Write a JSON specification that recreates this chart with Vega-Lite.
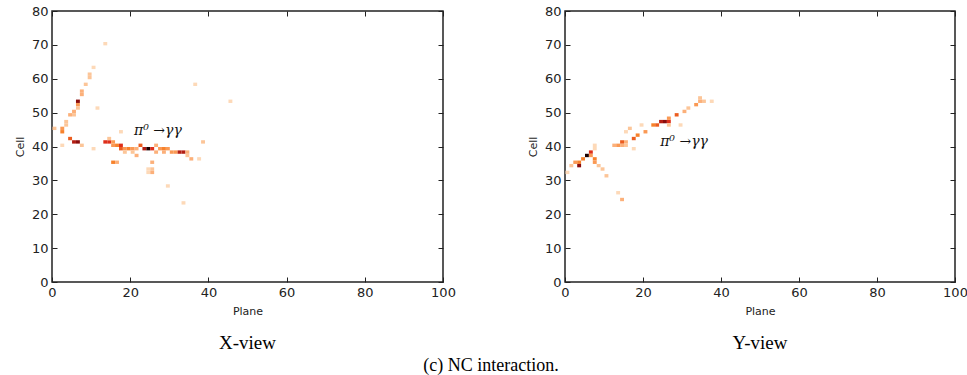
{
  "$schema": "https://vega.github.io/schema/vega-lite/v6.json",
  "padding": {"left": 13, "top": 4, "right": 0, "bottom": 0},
  "background": "white",
  "datasets": {
    "xview": [
      {"plane": 13, "cell": 70, "v": 1},
      {"plane": 10, "cell": 63, "v": 1},
      {"plane": 9, "cell": 61, "v": 2},
      {"plane": 9, "cell": 60, "v": 2},
      {"plane": 8, "cell": 58, "v": 2},
      {"plane": 7, "cell": 56, "v": 3},
      {"plane": 7, "cell": 55, "v": 3},
      {"plane": 6, "cell": 53, "v": 9},
      {"plane": 6, "cell": 52, "v": 4},
      {"plane": 6, "cell": 51, "v": 2},
      {"plane": 5, "cell": 50, "v": 3},
      {"plane": 5, "cell": 49, "v": 2},
      {"plane": 4, "cell": 49, "v": 3},
      {"plane": 3, "cell": 47, "v": 2},
      {"plane": 3, "cell": 46, "v": 2},
      {"plane": 2, "cell": 45, "v": 4},
      {"plane": 2, "cell": 44, "v": 5},
      {"plane": 0, "cell": 45, "v": 2},
      {"plane": 11, "cell": 51, "v": 1},
      {"plane": 2, "cell": 40, "v": 1},
      {"plane": 4, "cell": 42, "v": 6},
      {"plane": 5, "cell": 41, "v": 8},
      {"plane": 6, "cell": 41, "v": 9},
      {"plane": 7, "cell": 40, "v": 2},
      {"plane": 10, "cell": 39, "v": 1},
      {"plane": 13, "cell": 41, "v": 7},
      {"plane": 14, "cell": 41, "v": 7},
      {"plane": 15, "cell": 41, "v": 4},
      {"plane": 14, "cell": 42, "v": 2},
      {"plane": 15, "cell": 40, "v": 4},
      {"plane": 16, "cell": 40, "v": 5},
      {"plane": 17, "cell": 44, "v": 1},
      {"plane": 17, "cell": 40, "v": 7},
      {"plane": 17, "cell": 39, "v": 6},
      {"plane": 18, "cell": 39, "v": 4},
      {"plane": 19, "cell": 39, "v": 5},
      {"plane": 20, "cell": 39, "v": 4},
      {"plane": 18, "cell": 38, "v": 2},
      {"plane": 20, "cell": 38, "v": 2},
      {"plane": 21, "cell": 39, "v": 3},
      {"plane": 21, "cell": 37, "v": 3},
      {"plane": 22, "cell": 40, "v": 6},
      {"plane": 23, "cell": 39, "v": 8},
      {"plane": 24, "cell": 39, "v": 10},
      {"plane": 25, "cell": 39, "v": 7},
      {"plane": 26, "cell": 40, "v": 3},
      {"plane": 26, "cell": 38, "v": 3},
      {"plane": 27, "cell": 39, "v": 4},
      {"plane": 28, "cell": 39, "v": 5},
      {"plane": 28, "cell": 38, "v": 3},
      {"plane": 29, "cell": 39, "v": 4},
      {"plane": 30, "cell": 38, "v": 4},
      {"plane": 31, "cell": 38, "v": 4},
      {"plane": 32, "cell": 38, "v": 8},
      {"plane": 33, "cell": 38, "v": 8},
      {"plane": 34, "cell": 38, "v": 3},
      {"plane": 34, "cell": 37, "v": 2},
      {"plane": 35, "cell": 36, "v": 3},
      {"plane": 37, "cell": 36, "v": 1},
      {"plane": 38, "cell": 41, "v": 2},
      {"plane": 15, "cell": 35, "v": 5},
      {"plane": 16, "cell": 35, "v": 3},
      {"plane": 25, "cell": 35, "v": 3},
      {"plane": 24, "cell": 33, "v": 1},
      {"plane": 25, "cell": 33, "v": 2},
      {"plane": 24, "cell": 32, "v": 1},
      {"plane": 25, "cell": 32, "v": 3},
      {"plane": 29, "cell": 28, "v": 1},
      {"plane": 33, "cell": 23, "v": 1},
      {"plane": 36, "cell": 58, "v": 1},
      {"plane": 45, "cell": 53, "v": 1}
    ],
    "yview": [
      {"plane": 0, "cell": 32, "v": 1},
      {"plane": 1, "cell": 34, "v": 2},
      {"plane": 2, "cell": 35, "v": 4},
      {"plane": 3, "cell": 35, "v": 5},
      {"plane": 3, "cell": 34, "v": 9},
      {"plane": 4, "cell": 36, "v": 5},
      {"plane": 5, "cell": 37, "v": 10},
      {"plane": 6, "cell": 38, "v": 7},
      {"plane": 6, "cell": 37, "v": 4},
      {"plane": 7, "cell": 40, "v": 1},
      {"plane": 7, "cell": 39, "v": 1},
      {"plane": 7, "cell": 36, "v": 5},
      {"plane": 7, "cell": 35, "v": 4},
      {"plane": 8, "cell": 34, "v": 2},
      {"plane": 9, "cell": 33, "v": 2},
      {"plane": 10, "cell": 31, "v": 2},
      {"plane": 12, "cell": 40, "v": 3},
      {"plane": 13, "cell": 40, "v": 4},
      {"plane": 14, "cell": 40, "v": 3},
      {"plane": 13, "cell": 26, "v": 1},
      {"plane": 14, "cell": 24, "v": 3},
      {"plane": 14, "cell": 41, "v": 6},
      {"plane": 15, "cell": 41, "v": 3},
      {"plane": 15, "cell": 44, "v": 1},
      {"plane": 16, "cell": 45, "v": 2},
      {"plane": 15, "cell": 40, "v": 2},
      {"plane": 17, "cell": 42, "v": 6},
      {"plane": 17, "cell": 39, "v": 1},
      {"plane": 18, "cell": 43, "v": 5},
      {"plane": 19, "cell": 46, "v": 1},
      {"plane": 20, "cell": 44, "v": 4},
      {"plane": 22, "cell": 46, "v": 5},
      {"plane": 23, "cell": 46, "v": 6},
      {"plane": 24, "cell": 47, "v": 8},
      {"plane": 25, "cell": 47, "v": 9},
      {"plane": 26, "cell": 47, "v": 7},
      {"plane": 26, "cell": 48, "v": 4},
      {"plane": 26, "cell": 46, "v": 2},
      {"plane": 28, "cell": 49, "v": 6},
      {"plane": 29, "cell": 46, "v": 1},
      {"plane": 30, "cell": 50, "v": 3},
      {"plane": 31, "cell": 51, "v": 2},
      {"plane": 33, "cell": 52, "v": 4},
      {"plane": 34, "cell": 54, "v": 2},
      {"plane": 34, "cell": 53, "v": 3},
      {"plane": 35, "cell": 53, "v": 2},
      {"plane": 37, "cell": 53, "v": 1}
    ],
    "xlabel": [{"plane": 21, "cell": 44.5, "label": "π⁰ →γγ"}],
    "ylabel": [{"plane": 24.4, "cell": 41.3, "label": "π⁰ →γγ"}]
  },
  "title": {
    "text": "(c) NC interaction.",
    "orient": "bottom",
    "anchor": "middle",
    "font": "Liberation Serif",
    "fontSize": 18,
    "fontWeight": "normal",
    "color": "#000",
    "offset": 3
  },
  "spacing": 69,
  "hconcat": [
    {
      "width": 391,
      "height": 271,
      "title": {"text": "X-view", "orient": "bottom", "font": "Liberation Serif", "fontSize": 19, "fontWeight": "normal", "color": "#000", "offset": 18},
      "layer": [
        {
          "data": {"name": "xview"},
          "mark": {"type": "rect"},
          "encoding": {
            "x": {"field": "plane", "type": "quantitative", "bin": {"step": 1, "extent": [0, 100]}, "scale": {"domain": [0, 100], "nice": false}, "axis": {"title": "Plane", "values": [0, 20, 40, 60, 80, 100], "orient": "bottom"}},
            "y": {"field": "cell", "type": "quantitative", "bin": {"step": 1, "extent": [0, 80]}, "scale": {"domain": [0, 80], "nice": false}, "axis": {"title": "Cell", "values": [0, 10, 20, 30, 40, 50, 60, 70, 80], "orient": "left"}},
            "color": {"field": "v", "type": "quantitative", "legend": null, "scale": {"domain": [1, 3, 5, 7, 9, 10], "range": ["#fdd9b8", "#fcb07a", "#f7822c", "#de2e1a", "#8a0c0c", "#1a0000"]}}
          }
        },
        {
          "data": {"name": "xlabel"},
          "mark": {"type": "text", "align": "left", "baseline": "middle", "font": "DejaVu Serif", "fontStyle": "italic", "fontSize": 14, "color": "#111"},
          "encoding": {
            "x": {"field": "plane", "type": "quantitative", "axis": {"orient": "top", "labels": false, "title": null, "values": [0, 20, 40, 60, 80, 100]}},
            "y": {"field": "cell", "type": "quantitative", "axis": {"orient": "right", "labels": false, "title": null, "values": [0, 10, 20, 30, 40, 50, 60, 70, 80]}},
            "text": {"field": "label"}
          }
        }
      ],
      "resolve": {"axis": {"x": "independent", "y": "independent"}}
    },
    {
      "width": 390,
      "height": 271,
      "title": {"text": "Y-view", "orient": "bottom", "font": "Liberation Serif", "fontSize": 19, "fontWeight": "normal", "color": "#000", "offset": 18},
      "layer": [
        {
          "data": {"name": "yview"},
          "mark": {"type": "rect"},
          "encoding": {
            "x": {"field": "plane", "type": "quantitative", "bin": {"step": 1, "extent": [0, 100]}, "scale": {"domain": [0, 100], "nice": false}, "axis": {"title": "Plane", "values": [0, 20, 40, 60, 80, 100], "orient": "bottom"}},
            "y": {"field": "cell", "type": "quantitative", "bin": {"step": 1, "extent": [0, 80]}, "scale": {"domain": [0, 80], "nice": false}, "axis": {"title": "Cell", "values": [0, 10, 20, 30, 40, 50, 60, 70, 80], "orient": "left"}},
            "color": {"field": "v", "type": "quantitative", "legend": null, "scale": {"domain": [1, 3, 5, 7, 9, 10], "range": ["#fdd9b8", "#fcb07a", "#f7822c", "#de2e1a", "#8a0c0c", "#1a0000"]}}
          }
        },
        {
          "data": {"name": "ylabel"},
          "mark": {"type": "text", "align": "left", "baseline": "middle", "font": "DejaVu Serif", "fontStyle": "italic", "fontSize": 14, "color": "#111"},
          "encoding": {
            "x": {"field": "plane", "type": "quantitative", "axis": {"orient": "top", "labels": false, "title": null, "values": [0, 20, 40, 60, 80, 100]}},
            "y": {"field": "cell", "type": "quantitative", "axis": {"orient": "right", "labels": false, "title": null, "values": [0, 10, 20, 30, 40, 50, 60, 70, 80]}},
            "text": {"field": "label"}
          }
        }
      ],
      "resolve": {"axis": {"x": "independent", "y": "independent"}}
    }
  ],
  "config": {
    "view": {"stroke": "#222", "strokeWidth": 1.5},
    "axis": {
      "grid": false,
      "domain": false,
      "tickSize": -5,
      "tickColor": "#222",
      "tickWidth": 1,
      "labelFont": "DejaVu Sans",
      "labelFontSize": 13,
      "labelColor": "#222",
      "labelPadding": 9,
      "titleFont": "DejaVu Sans",
      "titleFontSize": 11,
      "titleFontWeight": "normal",
      "titleColor": "#222",
      "titlePadding": 6
    },
    "axisX": {"labelFlush": false},
    "axisY": {"labelFlush": false}
  }
}
